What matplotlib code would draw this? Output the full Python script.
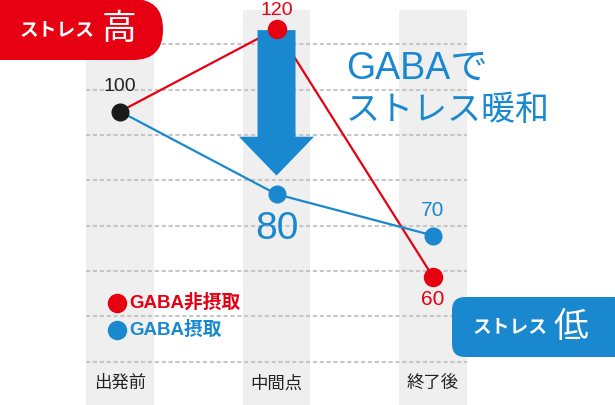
import numpy as np
import matplotlib.pyplot as plt
from matplotlib.patches import FancyBboxPatch, FancyArrow

plt.rcParams['font.family'] = ['Liberation Sans', 'Noto Sans CJK JP', 'DejaVu Sans']

# data
categories = ['出発前', '中間点', '終了後']
no_gaba = [100, 120, 60]     # GABA非摂取
with_gaba = [100, 80, 70]    # GABA摂取
grid_levels = [116.3, 105.2, 94.3, 83.4, 72.3, 61.4, 50.5, 39.4]

red = '#E60012'
blue = '#1A88CF'
band = '#EFEFEF'
grid_c = '#C6C6C6'

fig = plt.figure(figsize=(6.15, 4.05), dpi=100)
ax = fig.add_axes([0, 0, 1, 1])
ax.set_xlim(-0.767, 3.163)
ax.set_ylim(29.0, 126.98)
ax.axis('off')

x = np.arange(len(categories))

# grey bands behind each category
ax.bar(x, 124.6 - 29.0, bottom=29.0, width=0.43, color=band, zorder=0)

# dotted grid
ax.hlines(grid_levels, -0.215, 2.215, colors=grid_c, linewidth=1.5,
          linestyles=(0, (2, 1.3)), zorder=1)

# lines
ax.plot(x, no_gaba, color=red, lw=1.6, zorder=2)
ax.plot(x, with_gaba, color=blue, lw=1.6, zorder=2)

# arrow
ax.add_patch(FancyArrow(1, 119.7, 0, 84.5 - 119.7, width=0.243, head_width=0.48,
                        head_length=9.4, length_includes_head=True,
                        color=blue, lw=0, zorder=3))

# markers
ax.plot(x[1:], no_gaba[1:], 'o', color=red, ms=13, zorder=4)
ax.plot(x[1:], with_gaba[1:], 'o', color=blue, ms=12, zorder=4)
ax.plot(x[0], no_gaba[0], 'o', color='#1A1A1A', ms=12, zorder=5)

def label(xv, yv, s, dy, color, size):
    ax.annotate(s, (xv, yv), xytext=(0, dy), textcoords='offset points',
                ha='center', va='center', color=color, fontsize=size, zorder=6)

label(0, no_gaba[0], str(no_gaba[0]), 18, '#222222', 14)
label(1, no_gaba[1], str(no_gaba[1]), 13.5, red, 14)
label(2, no_gaba[2], str(no_gaba[2]), -16.5, red, 15)
label(1, with_gaba[1], str(with_gaba[1]), -25, blue, 28)
label(2, with_gaba[2], str(with_gaba[2]), 18, blue, 15)

# category labels
for i, c in enumerate(categories):
    ax.text(i, 34.3, c, ha='center', va='center', fontsize=12.5, color='#222222')

# overlay in pixel coordinates for the call-out boxes
ov = fig.add_axes([0, 0, 1, 1], zorder=10)
ov.set_xlim(0, 615)
ov.set_ylim(405, 0)
ov.axis('off')
ov.patch.set_alpha(0)

ov.add_patch(FancyBboxPatch((-60, -1), 223, 61, boxstyle='round,pad=0,rounding_size=30',
                            fc=red, ec='none'))
ov.text(57, 31, 'ストレス', color='white', fontsize=13.5, ha='center', va='center',
        fontweight='semibold')
ov.text(119, 30, '高', color='white', fontsize=25, ha='center', va='center')

ov.add_patch(FancyBboxPatch((452, 297), 175, 60, boxstyle='round,pad=0,rounding_size=13',
                            fc=blue, ec='none'))
ov.text(510, 328, 'ストレス', color='white', fontsize=13.5, ha='center', va='center',
        fontweight='semibold')
ov.text(571, 327, '低', color='white', fontsize=25, ha='center', va='center')

ov.text(346, 69, 'GABAで', color=blue, fontsize=27, ha='left', va='center')
ov.text(346, 111, 'ストレス暖和', color=blue, fontsize=24.5, ha='left', va='center')

# legend
ov.plot([117], [303], 'o', color=red, ms=13)
ov.text(129, 303, 'GABA非摂取', color=red, fontsize=13.5, ha='left', va='center',
        fontweight='semibold')
ov.plot([117], [330], 'o', color=blue, ms=13)
ov.text(129, 330, 'GABA摂取', color=blue, fontsize=13.5, ha='left', va='center',
        fontweight='semibold')

fig.savefig('out.png', dpi=100)
